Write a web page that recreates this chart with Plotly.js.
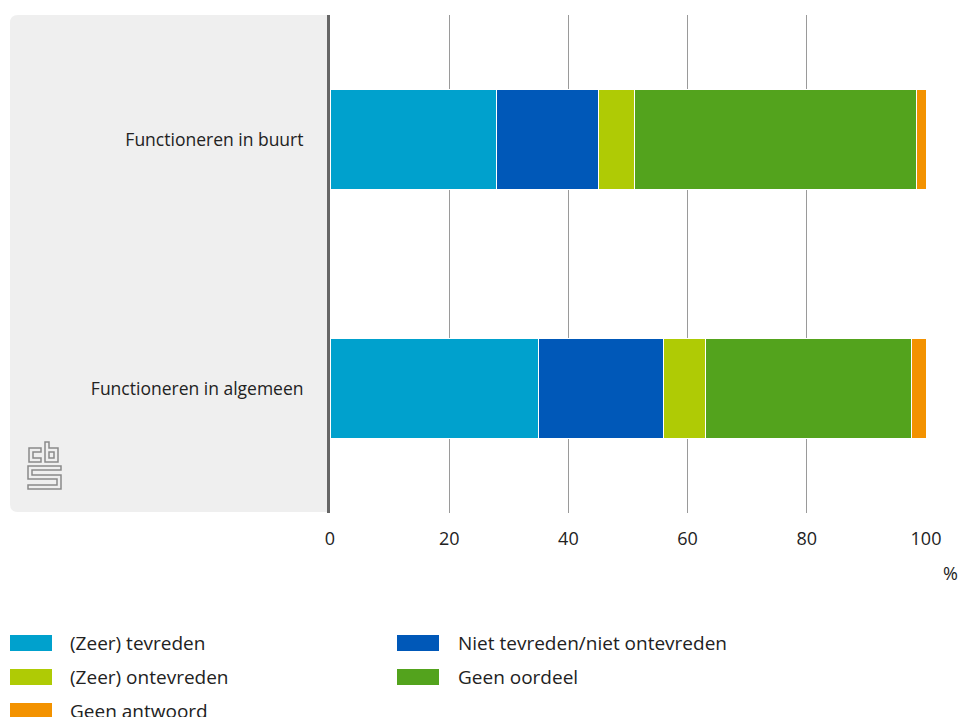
<!DOCTYPE html>
<html>
<head>
<meta charset="utf-8">
<script src="https://cdn.plot.ly/plotly-3.0.1.min.js"></script>
<style>html,body{margin:0;padding:0;background:#fff;}#chart{width:959px;height:717px;}</style>
</head>
<body>
<div id="chart"></div>
<script>
// Data
const categories = ["Functioneren in buurt", "Functioneren in algemeen"];
const seriesNames = ["(Zeer) tevreden", "Niet tevreden/niet ontevreden", "(Zeer) ontevreden", "Geen oordeel", "Geen antwoord"];
const seriesColors = ["#00a1cd", "#0058b8", "#afcb05", "#53a31d", "#f39200"];
const zeerTevreden = [27.9, 35.0];
const nietTevredenNietOntevreden = [17.2, 20.9];
const zeerOntevreden = [6.0, 7.1];
const geenOordeel = [47.3, 34.6];
const geenAntwoord = [1.6, 2.4];
const xTicks = [0, 20, 40, 60, 80, 100];
const unitLabel = "%";

const seriesValues = [zeerTevreden, nietTevredenNietOntevreden, zeerOntevreden, geenOordeel, geenAntwoord];
const FONT = "Open Sans, Roboto, sans-serif";

// layout geometry (pixels)
const W = 959, H = 717;
const L = 330, R = 926, T = 15, B = 513;
const fx = px => (px - L) / (R - L);
const fy = py => (B - py) / (B - T);

const traces = seriesNames.map((name, i) => ({
  type: "bar",
  orientation: "h",
  name: name,
  y: categories,
  x: seriesValues[i],
  marker: {color: seriesColors[i], line: {color: "#ffffff", width: 1}},
  hoverinfo: "x+name"
}));

const shapes = [];
const annotations = [];

// grey panel behind category labels
{
  const x0 = fx(10), x1 = fx(329), y0 = fy(512), y1 = fy(15);
  const rx = 8 / (R - L), ry = 8 / (B - T);
  shapes.push({
    type: "path", xref: "paper", yref: "paper", layer: "below",
    path: `M ${x0+rx} ${y1} L ${x1} ${y1} L ${x1} ${y0} L ${x0+rx} ${y0} Q ${x0} ${y0} ${x0} ${y0+ry} L ${x0} ${y1-ry} Q ${x0} ${y1} ${x0+rx} ${y1} Z`,
    fillcolor: "#efefef", line: {width: 0}
  });
}

// cbs logo (approximation)
{
  const P = pts => pts.map((p, k) => (k ? "L " : "M ") + fx(p[0]) + " " + fy(p[1])).join(" ") + " Z";
  const logoPaths = [
    // c
    [[29,448],[41,448],[41,452],[33,452],[33,458],[41,458],[41,462],[29,462]],
    // b
    [[45,442],[49,442],[49,448],[58,448],[58,462],[45,462]],
    [[49,452],[54,452],[54,458],[49,458]],
    // S
    [[28,466],[61,466],[61,470],[32,470],[32,475],[61,475],[61,489],[28,489],[28,485],[57,485],[57,479],[28,479]]
  ];
  logoPaths.forEach(pp => shapes.push({
    type: "path", xref: "paper", yref: "paper", path: P(pp),
    line: {color: "#8a8a8a", width: 1.5}
  }));
}

// custom legend
seriesNames.forEach((name, i) => {
  const col = i % 2, row = Math.floor(i / 2);
  const sx = col ? 397 : 10;
  const tx = col ? 456 : 68;
  const cy = 643 + 34 * row;
  shapes.push({
    type: "rect", xref: "paper", yref: "paper",
    x0: fx(sx), x1: fx(sx + 42), y0: fy(cy + 8), y1: fy(cy - 8),
    fillcolor: seriesColors[i], line: {width: 0}
  });
  annotations.push({
    xref: "paper", yref: "paper", x: fx(tx), y: fy(cy),
    xanchor: "left", yanchor: "middle", showarrow: false,
    text: name, font: {family: FONT, size: 19, color: "#222"}
  });
});

annotations.push({
  xref: "paper", yref: "paper", x: fx(950), y: fy(573),
  xanchor: "center", yanchor: "middle", showarrow: false,
  text: unitLabel, font: {family: FONT, size: 18, color: "#222"}
});

const layout = {
  width: W, height: H,
  margin: {l: L, r: W - R, t: T, b: H - B, pad: 0},
  paper_bgcolor: "#ffffff",
  plot_bgcolor: "rgba(0,0,0,0)",
  barmode: "stack",
  bargap: 0.6,
  showlegend: false,
  font: {family: FONT, size: 17, color: "#222"},
  xaxis: {
    range: [0, 100], tickvals: xTicks, ticktext: xTicks.map(String),
    showgrid: true, gridcolor: "#9a9a9a", gridwidth: 1,
    zeroline: false, showline: false, ticks: "",
    ticklabelstandoff: 13, fixedrange: true,
    tickfont: {family: FONT, size: 18, color: "#222"}
  },
  yaxis: {
    type: "category", categoryorder: "array", categoryarray: categories,
    range: [1.5, -0.5], autorange: false,
    showgrid: false, zeroline: false,
    showline: true, linecolor: "#666666", linewidth: 3,
    ticks: "", ticklabelstandoff: 20, fixedrange: true,
    tickfont: {family: FONT, size: 17.5, color: "#222"}
  },
  shapes: shapes,
  annotations: annotations
};

Plotly.newPlot("chart", traces, layout, {displayModeBar: false, staticPlot: true});
</script>
</body>
</html>
